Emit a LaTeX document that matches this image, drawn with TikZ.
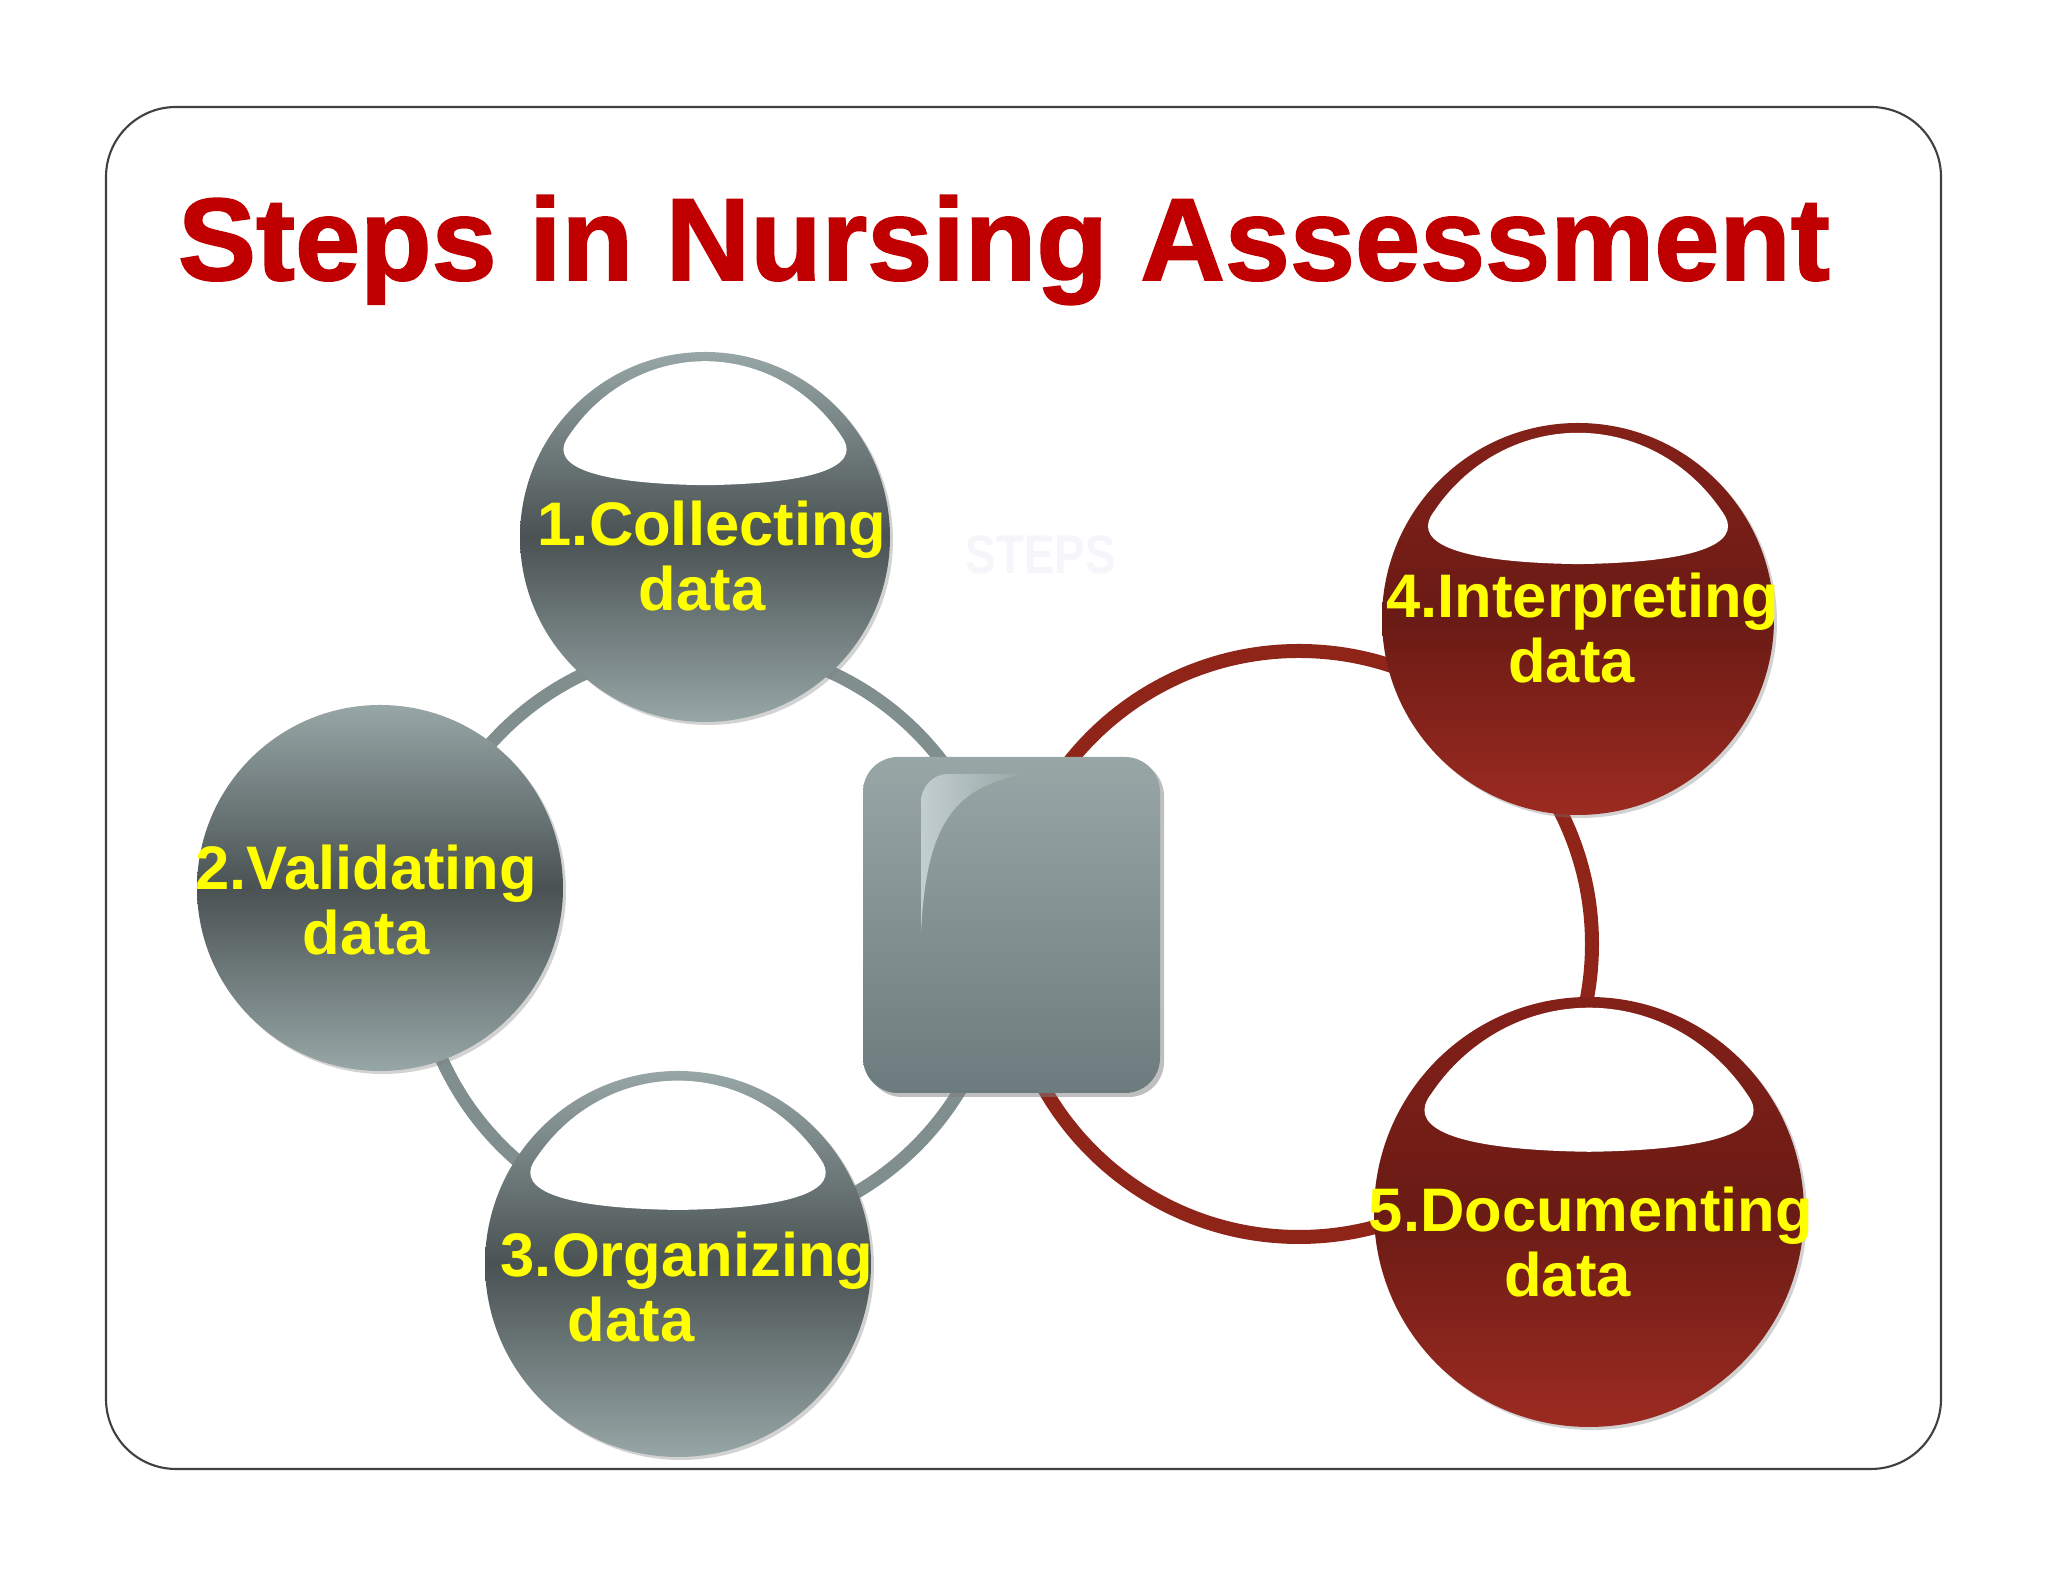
\documentclass[tikz,border=0pt]{standalone}
\usepackage{fontspec}
\setmainfont{Liberation Sans}
\newfontfamily\titlefont{Liberation Sans}[BoldFeatures={FakeBold=1.5}]
\usetikzlibrary{shadows}

\definecolor{titlered}{HTML}{C00000}
\definecolor{stepyellow}{HTML}{FFFF00}
\definecolor{grayL}{HTML}{97A6A6}
\definecolor{grayD}{HTML}{4A5253}
\definecolor{redT}{HTML}{842119}
\definecolor{redD}{HTML}{6A1B15}
\definecolor{redB}{HTML}{9C2B21}
\definecolor{boxtop}{HTML}{98A6A6}
\definecolor{boxbot}{HTML}{6C7B7D}
\definecolor{glosscol}{HTML}{C2CECF}
\definecolor{wiregray}{HTML}{808E8E}
\definecolor{wirered}{HTML}{8F2419}
\definecolor{faint}{RGB}{246,246,250}

\tikzset{
  titletext/.style={text=titlered, font=\titlefont\bfseries\fontsize{33.3}{38}\selectfont, inner sep=0pt},
  steptxt/.style={text=stepyellow, font=\bfseries\fontsize{17.5}{18.5}\selectfont, align=center, inner sep=0pt},
  watermark/.style={text=faint, font=\bfseries\fontsize{15.5}{16}\selectfont, xscale=0.84, inner sep=0pt},
  bubshadow/.style={drop shadow={opacity=0.35, shadow xshift=0.03cm, shadow yshift=-0.03cm}},
  graybub/.style={circle, inner sep=0pt, top color=grayL, bottom color=grayL, middle color=grayD, bubshadow},
  redbub/.style={circle, inner sep=0pt, top color=redT, bottom color=redB, middle color=redD, bubshadow},
  hub/.style={rectangle, rounded corners=0.35cm, top color=boxtop, bottom color=boxbot, inner sep=0pt,
    drop shadow={opacity=0.5, shadow xshift=0.04cm, shadow yshift=-0.04cm}},
  graywire/.style={draw=wiregray, line width=0.13cm},
  redwire/.style={draw=wirered, line width=0.14cm}
}

% white cap on the upper part of a bubble
\newcommand{\bubgloss}[2]{%
  \fill[white, shift={(#1)}, scale=#2] (-0.737,0.545)
    arc[start angle=145, end angle=35, x radius=0.9, y radius=0.95]
    .. controls (0.83,0.42) and (0.72,0.29) .. (0,0.28)
    .. controls (-0.72,0.29) and (-0.83,0.42) .. cycle;}

\begin{document}
\begin{tikzpicture}
\useasboundingbox (0,0) rectangle (20.48,15.82);
\fill[white] (0,0) rectangle (20.48,15.82);
\draw[black!75, line width=0.6pt, rounded corners=0.7cm] (1.06,1.13) rectangle (19.41,14.75);

\node[titletext, anchor=base] (title) at (10.04,13.02) {Steps in Nursing Assessment};

\coordinate (lring) at (7.09,6.43);
\coordinate (rring) at (12.99,6.38);
\draw[graywire] (lring) circle (2.93);
\draw[redwire] (rring) circle (2.93);

\node[watermark] (steps) at (10.41,10.27) {STEPS};

% centre box
\node[hub, minimum width=2.97cm, minimum height=3.36cm] (hubbox) at (10.115,6.57) {};
\shade[left color=glosscol, right color=boxtop]
  (9.21,6.48) -- (9.21,7.80) to[out=90, in=180] (9.48,8.08) -- (10.25,8.08)
  .. controls (9.55,7.95) and (9.26,7.60) .. cycle;

% bubbles
\node[graybub, minimum size=3.70cm] (collect) at (7.05,10.45) {};
\node[graybub, minimum size=3.66cm] (validate) at (3.80,6.94) {};
\node[graybub, minimum size=3.86cm] (organize) at (6.78,3.18) {};
\node[redbub, minimum size=3.92cm] (interpret) at (15.78,9.63) {};
\node[redbub, minimum size=4.30cm] (document) at (15.89,3.70) {};

\bubgloss{collect}{1.85}
\bubgloss{organize}{1.93}
\bubgloss{interpret}{1.96}
\bubgloss{document}{2.15}

\node[steptxt] (collecttxt) at (7.12,10.26) {1.Collecting\\data\hspace*{0.2cm}};
\node[steptxt] (validatetxt) at (3.66,6.82) {2.Validating\\data};
\node[steptxt] (organizetxt) at (6.87,2.95) {3.Organizing\\data\hspace*{1.12cm}};
\node[steptxt] (interprettxt) at (15.83,9.54) {4.Interpreting\\data\hspace*{0.23cm}};
\node[steptxt] (documenttxt) at (15.91,3.40) {5.Documenting\\data\hspace*{0.47cm}};
\end{tikzpicture}
\end{document}
